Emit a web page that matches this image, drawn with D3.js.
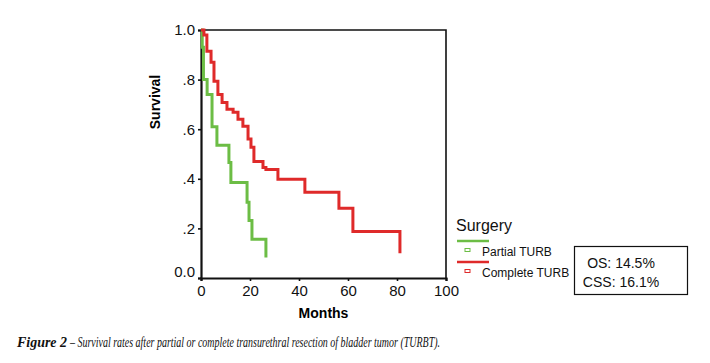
<!DOCTYPE html>
<html>
<head>
<meta charset="utf-8">
<script src="https://cdn.jsdelivr.net/npm/d3@7"></script>
<style>
  body { margin: 0; background: #fff; }
  svg { display: block; font-family: Arial, "Liberation Sans", sans-serif; }
</style>
</head>
<body>
<div id="chart"></div>
<script>
// Kaplan-Meier steps: months, survival after each drop
const partialMonths   = [0, 0.5, 1.0, 2.5, 4.5, 6.5, 11.4, 12.2, 18.8, 19.6, 20.8, 26.5];
const partialSurvival = [1.0, 0.93, 0.80, 0.74, 0.61, 0.535, 0.466, 0.385, 0.305, 0.232, 0.156, 0.083];

const completeMonths   = [0, 1.2, 2.4, 4.1, 5.3, 6.9, 8.6, 10.6, 13.1, 15.1, 17.1, 19.2, 20.4, 21.6, 25.3, 26.5, 31.4, 42.4, 56.3, 62.0, 81.2];
const completeSurvival = [1.0, 0.98, 0.914, 0.87, 0.793, 0.74, 0.708, 0.68, 0.668, 0.64, 0.612, 0.56, 0.527, 0.47, 0.446, 0.438, 0.398, 0.346, 0.281, 0.188, 0.10];

const xTicks = [0, 20, 40, 60, 80, 100];
const yTicks = [0, 0.2, 0.4, 0.6, 0.8, 1.0];
const yTickLabels = ['0.0', '.2', '.4', '.6', '.8', '1.0'];

const groups = ['Partial TURB', 'Complete TURB'];
const groupColors = ['#6cbd45', '#df2a2a'];
const summary = ['OS: 14.5%', 'CSS: 16.1%'];

const width = 710, height = 363;
const svg = d3.select('#chart').append('svg')
  .attr('width', width).attr('height', height);

const x = d3.scaleLinear().domain([0, 100]).range([201, 446]);
const y = d3.scaleLinear().domain([0, 1]).range([278, 30]);

// frame (top / right)
svg.append('path')
  .attr('d', `M${x(0)},${y(1)}H${x(100)}V${y(0)}`)
  .attr('fill', 'none').attr('stroke', '#111').attr('stroke-width', 1.6);

// axes
const xAxis = svg.append('g')
  .attr('transform', `translate(0,${y(0)})`)
  .call(d3.axisBottom(x).tickValues(xTicks).tickSize(3).tickPadding(4));
const yAxis = svg.append('g')
  .attr('transform', `translate(${x(0)},0)`)
  .call(d3.axisLeft(y).tickValues(yTicks).tickSize(3).tickPadding(3)
    .tickFormat((d, i) => yTickLabels[i]));

[xAxis, yAxis].forEach(g => {
  g.select('.domain').attr('stroke', '#111').attr('stroke-width', 2.2);
  g.selectAll('.tick line').attr('stroke', '#111').attr('stroke-width', 1.6);
  g.selectAll('.tick text').attr('fill', '#111')
    .style('font-size', '15px').style('font-family', 'Arial, "Liberation Sans", sans-serif');
});
yAxis.selectAll('.tick').filter(d => d === 0).select('text').attr('dy', '-0.1em');

svg.append('text')
  .attr('x', (x(0) + x(100)) / 2).attr('y', 318)
  .attr('text-anchor', 'middle')
  .style('font-size', '14px').style('font-weight', 'bold')
  .text('Months');

svg.append('text')
  .attr('transform', `translate(160,102) rotate(-90)`)
  .attr('text-anchor', 'middle')
  .style('font-size', '14px').style('font-weight', 'bold')
  .text('Survival');

// survival curves
const line = d3.line()
  .x(d => x(d[0])).y(d => y(d[1]))
  .curve(d3.curveStepAfter);

const series = [
  d3.zip(partialMonths, partialSurvival),
  d3.zip(completeMonths, completeSurvival)
];

series.forEach((pts, i) => {
  svg.append('path')
    .datum(pts)
    .attr('d', line)
    .attr('fill', 'none')
    .attr('stroke', groupColors[i])
    .attr('stroke-width', 3)
    .attr('stroke-linejoin', 'miter');
});

// legend
const legend = svg.append('g').attr('transform', 'translate(456,0)');
legend.append('text')
  .attr('x', 0).attr('y', 231)
  .style('font-size', '16px').attr('fill', '#111')
  .text('Surgery');

groups.forEach((g, i) => {
  const top = 241 + i * 21;
  legend.append('line')
    .attr('x1', 1).attr('x2', 33).attr('y1', top).attr('y2', top)
    .attr('stroke', groupColors[i]).attr('stroke-width', 2.5);
  legend.append('rect')
    .attr('x', 9).attr('y', top + 7.5).attr('width', 5).attr('height', 3)
    .attr('fill', 'none').attr('stroke', groupColors[i]).attr('stroke-width', 1);
  legend.append('text')
    .attr('x', 26).attr('y', top + 15)
    .style('font-size', '12px').attr('fill', '#111')
    .text(g);
});

// summary box
svg.append('rect')
  .attr('x', 574.5).attr('y', 246.5).attr('width', 113).attr('height', 48)
  .attr('fill', '#fff').attr('stroke', '#111').attr('stroke-width', 1.2);
summary.forEach((s, i) => {
  svg.append('text')
    .attr('x', 621).attr('y', 268 + i * 18.5)
    .attr('text-anchor', 'middle')
    .style('font-size', '14px').attr('fill', '#111')
    .text(s);
});

// caption
const capFont = '"Liberation Serif", "Times New Roman", serif';
svg.append('text')
  .attr('x', 17).attr('y', 347)
  .attr('textLength', 50).attr('lengthAdjust', 'spacingAndGlyphs')
  .style('font-family', capFont).style('font-style', 'italic')
  .style('font-weight', 'bold').style('font-size', '14px').attr('fill', '#111')
  .text('Figure 2');
svg.append('text')
  .attr('x', 70).attr('y', 347)
  .attr('textLength', 370).attr('lengthAdjust', 'spacingAndGlyphs')
  .style('font-family', capFont).style('font-style', 'italic')
  .style('font-size', '14px').attr('fill', '#111')
  .text('– Survival rates after partial or complete transurethral resection of bladder tumor (TURBT).');
</script>
</body>
</html>
